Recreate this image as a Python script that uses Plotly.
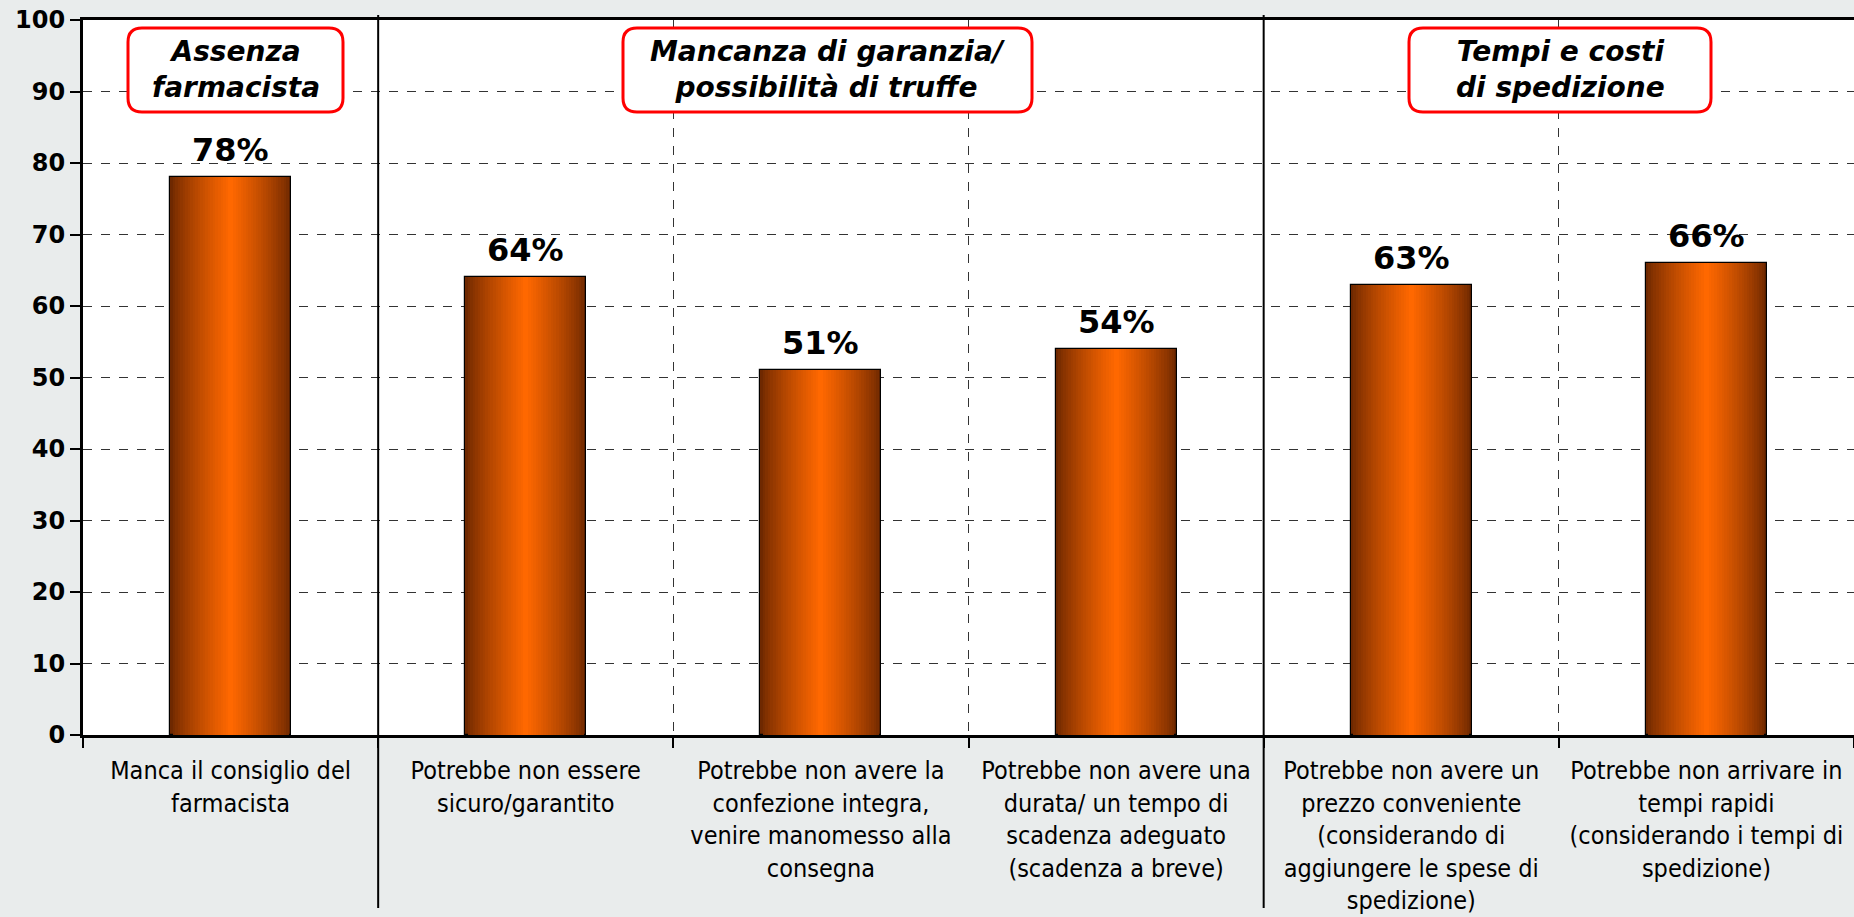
import plotly.graph_objects as go

categories = [
    "Manca il consiglio del<br>farmacista",
    "Potrebbe non essere<br>sicuro/garantito",
    "Potrebbe non avere la<br>confezione integra,<br>venire manomesso alla<br>consegna",
    "Potrebbe non avere una<br>durata/ un tempo di<br>scadenza adeguato<br>(scadenza a breve)",
    "Potrebbe non avere un<br>prezzo conveniente<br>(considerando di<br>aggiungere le spese di<br>spedizione)",
    "Potrebbe non arrivare in<br>tempi rapidi<br>(considerando i tempi di<br>spedizione)",
]
values = [78, 64, 51, 54, 63, 66]
group_labels = ["Assenza<br>farmacista", "Mancanza di garanzia/<br>possibilità di truffe", "Tempi e costi<br>di spedizione"]
y_ticks = list(range(0, 101, 10))

W, H = 1854, 917
ML, MR, MT, MB = 83, 0, 20, 182
PW, PH = W - ML - MR, H - MT - MB

dark = (110, 40, 0)
bright = (255, 104, 0)
N = 24
bar_w = 0.41

fig = go.Figure()
for i in range(N):
    t = i / (N - 1)
    tt = t ** 0.8
    c = tuple(int(dark[k] + (bright[k] - dark[k]) * tt) for k in range(3))
    w = bar_w * (1 - i / N)
    outer = i == 0
    fig.add_trace(go.Bar(
        x=categories, y=values, width=w,
        marker=dict(color="rgb(%d,%d,%d)" % c,
                    line=dict(color="black", width=1.2 if outer else 0)),
        showlegend=False, hoverinfo="skip",
    ))

def px2paper_x(p):
    return (p - ML) / PW

def px2paper_y(p):
    return (H - MB - p) / PH

def rounded_rect(x0p, y0p, x1p, y1p, r=14):
    rx, ry = r / PW, r / PH
    x0, x1 = px2paper_x(x0p), px2paper_x(x1p)
    yt, yb = px2paper_y(y0p), px2paper_y(y1p)
    return (f"M {x0+rx},{yt} L {x1-rx},{yt} Q {x1},{yt} {x1},{yt-ry} "
            f"L {x1},{yb+ry} Q {x1},{yb} {x1-rx},{yb} L {x0+rx},{yb} "
            f"Q {x0},{yb} {x0},{yb+ry} L {x0},{yt-ry} Q {x0},{yt} {x0+rx},{yt} Z")

boxes = [(128, 28, 343, 112), (623, 28, 1032, 112), (1409, 28, 1711, 112)]
shapes = []
annotations = []
for (bx0, by0, bx1, by1), lab in zip(boxes, group_labels):
    shapes.append(dict(type="path", xref="paper", yref="paper",
                       path=rounded_rect(bx0, by0, bx1, by1),
                       fillcolor="white", line=dict(color="#ff0000", width=3), layer="above"))
    annotations.append(dict(xref="paper", yref="paper",
                            x=px2paper_x((bx0 + bx1) / 2), y=px2paper_y((by0 + by1) / 2),
                            text=f"<b><i>{lab}</i></b>", showarrow=False,
                            font=dict(family="DejaVu Sans", size=28, color="black"),
                            xanchor="center", yanchor="middle"))

# value labels
for cat, v in zip(categories, values):
    annotations.append(dict(xref="x", yref="y", x=cat, y=v, text=f"<b>{v}%</b>",
                            showarrow=False, xanchor="center", yanchor="bottom", yshift=6,
                            font=dict(family="DejaVu Sans", size=32, color="black")))

for xb in [0.5, 3.5]:
    shapes.append(dict(type="line", xref="x", yref="paper", x0=xb, x1=xb,
                       y0=px2paper_y(908), y1=px2paper_y(15),
                       line=dict(color="black", width=2), layer="above"))

fig.update_layout(
    width=W, height=H,
    margin=dict(l=ML, r=MR, t=MT, b=MB, autoexpand=False),
    paper_bgcolor="#e9ecec", plot_bgcolor="white",
    barmode="overlay", bargap=0,
    shapes=shapes, annotations=annotations,
    xaxis=dict(type="category", range=[-0.5, 5.5], tickson="boundaries",
               showgrid=True, gridcolor="#333", griddash="dash", gridwidth=1,
               showline=True, linecolor="black", linewidth=3, mirror=True,
               ticks="outside", ticklen=10, tickwidth=2, tickcolor="black",
               ticklabelstandoff=11, automargin=False,
               tickfont=dict(family="DejaVu Sans Condensed, Liberation Sans", size=25, color="black"),
               tickangle=0),
    yaxis=dict(range=[0, 100], tickvals=y_ticks, showgrid=True, gridcolor="#333",
               griddash="dash", gridwidth=1, zeroline=False, automargin=False,
               showline=True, linecolor="black", linewidth=3,
               ticks="outside", ticklen=10, tickwidth=2, tickcolor="black",
               tickfont=dict(family="DejaVu Sans", size=24, color="black", weight="bold")),
)

fig.write_html("out.html", config={"displayModeBar": False},
               post_script="document.body.style.margin='0';document.body.style.overflow='hidden';")
